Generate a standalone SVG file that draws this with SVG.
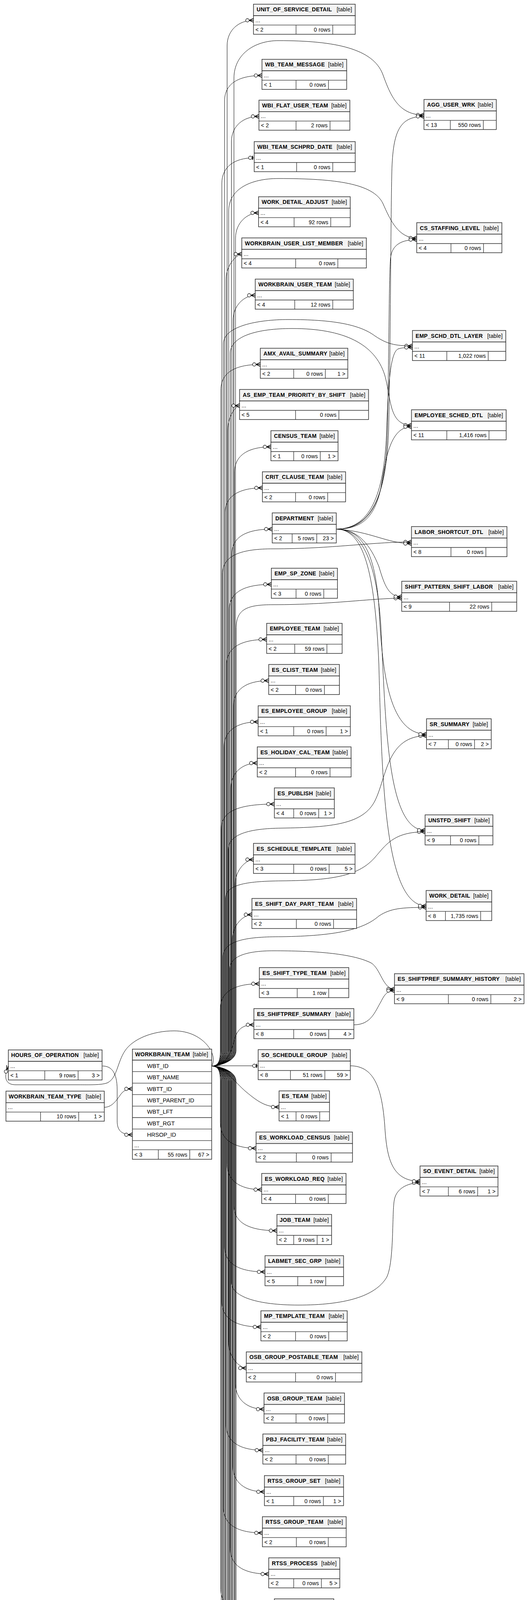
<svg xmlns="http://www.w3.org/2000/svg" width="1357" height="6292" viewBox="0 0 1357 6292">
<defs>
<style>
.h{fill:#f3f3f3;stroke:#2b2b2b;stroke-width:1.5}
.b{fill:#fff;stroke:#2b2b2b;stroke-width:1.5}
.g{fill:none;stroke:#2b2b2b;stroke-width:1.3}
.x{fill:none;stroke:#000;stroke-width:3.5}
.n{font-family:"Liberation Sans",Arial,sans-serif;font-size:14px;font-weight:bold;letter-spacing:.3px;fill:#000}
.t{font-family:"Liberation Sans",Arial,sans-serif;font-size:14px;letter-spacing:.2px;fill:#000}
.c{font-family:"Liberation Sans",Arial,sans-serif;font-size:14.5px;fill:#000}
.e{text-anchor:end}
#edges path{fill:none;stroke:#000;stroke-width:1;marker-end:url(#crow)}
#edges path.tee{marker-end:url(#tee)}
</style>
<marker id="crow" viewBox="-24 -7 26 14" refX="0" refY="0" markerWidth="26" markerHeight="14" markerUnits="userSpaceOnUse" orient="auto">
<circle cx="-15.5" cy="0" r="4.3" fill="#fff" stroke="#000" stroke-width="1.2"/>
<path d="M-11 0L0 -5M-11 0L0 0M-11 0L0 5" stroke="#000" stroke-width="1.6" fill="none"/>
</marker>
<marker id="tee" viewBox="-24 -7 26 14" refX="0" refY="0" markerWidth="26" markerHeight="14" markerUnits="userSpaceOnUse" orient="auto">
<circle cx="-10" cy="0" r="4.3" fill="#fff" stroke="#000" stroke-width="1.2"/>
<path d="M-4 -5V5" stroke="#000" stroke-width="2.4" fill="none"/>
</marker>
</defs>
<rect width="1357" height="6292" fill="#fff"/>
<g id="edges">
<path d="M542 2729C558 2729 581.5 2718 581.5 2690L581.5 117C581.5 77 611.5 52 649 52"/>
<path d="M542 2729C558 2729 599 2718 599 2690L599 200C599 140 650 104 713 104C860 104 955 125 980 190C1000 245 1020 294.5 1085.5 294.5"/>
<path d="M542 2729C558 2729 575 2718 575 2690L575 258C575 218 605 193.3 670.7 193.3"/>
<path d="M542 2729C558 2729 592.5 2718 592.5 2690L592.5 363C592.5 323 622.5 298 663 298"/>
<path class="tee" d="M542 2729C558 2729 568 2718 568 2690L568 469C568 429 598 404 650.8 404"/>
<path d="M542 2729C558 2729 585.5 2718 585.5 2690L585.5 540C585.5 485 640 457 713 457C860 457 955 470 980 520C1000 565 1020 609.5 1067 609.5"/>
<path d="M542 2729C558 2729 603 2718 603 2690L603 610C603 570 633 545 662 545"/>
<path d="M542 2729C558 2729 579 2718 579 2690L579 715C579 675 609 650.5 619 650.5"/>
<path d="M542 2729C558 2729 596.5 2718 596.5 2690L596.5 821C596.5 781 626.5 756 653.5 756"/>
<path d="M542 2729C558 2729 572 2718 572 2690L572 880C572 835 660 818 738 818C850 818 920 830 960 860C990 880 1010 885.5 1056 885.5"/>
<path d="M542 2729C558 2729 589.5 2718 589.5 2690L589.5 905C589.5 860 660 841 748 841C880 841 960 880 985 960C1002 1020 995 1088.5 1053.5 1088.5"/>
<path d="M542 2729C558 2729 565.5 2718 565.5 2690L565.5 998C565.5 958 595.5 933 666.5 933"/>
<path d="M542 2729C558 2729 583 2718 583 2690L583 1103C583 1063 605.4 1038.5 613.4 1038.5"/>
<path d="M542 2729C558 2729 600.5 2718 600.5 2690L600.5 1209C600.5 1169 630.5 1144 693.6 1144"/>
<path d="M542 2729C558 2729 576 2718 576 2690L576 1314C576 1274 606 1249 671.8 1249"/>
<path d="M542 2729C558 2729 593.5 2718 593.5 2690L593.5 1419C593.5 1379 623.5 1354.5 697 1354.5"/>
<path d="M542 2729C558 2729 569.5 2718 569.5 2690L569.5 1470C569.5 1420 620 1405 700 1405C850 1405 950 1387.5 1053.5 1387.5"/>
<path d="M542 2729C558 2729 587 2718 587 2690L587 1561C587 1521 617 1496 694.7 1496"/>
<path d="M542 2729C558 2729 604.5 2718 604.5 2690L604.5 1610C604.5 1560 630 1548 700 1548C850 1548 950 1531.5 1028.5 1531.5"/>
<path d="M542 2729C558 2729 580 2718 580 2690L580 1702C580 1662 610 1637 682.7 1637"/>
<path d="M542 2729C558 2729 598 2718 598 2690L598 1807C598 1767 628 1742.5 688 1742.5"/>
<path d="M542 2729C558 2729 573.5 2718 573.5 2690L573.5 1913C573.5 1873 603.5 1848 661 1848"/>
<path d="M542 2729C558 2729 591 2718 591 2690L591 2018C591 1978 621 1953.5 658.7 1953.5"/>
<path d="M542 2729C558 2729 566.5 2718 566.5 2690L566.5 2123C566.5 2083 596.5 2058.5 702.5 2058.5"/>
<path d="M542 2729C558 2729 584.5 2718 584.5 2690L584.5 2175C584.5 2135 640 2121 720 2120C850 2118 930 2110 960 2050C990 1990 990 1883.5 1092 1883.5"/>
<path d="M542 2729C558 2729 602 2718 602 2690L602 2265C602 2225 632 2200.5 649 2200.5"/>
<path d="M542 2729C558 2729 577.5 2718 577.5 2690L577.5 2300C577.5 2262 640 2256 720 2255C860 2254 920 2240 960 2195C990 2160 1010 2129.5 1088.4 2129.5"/>
<path d="M542 2729C558 2729 595 2718 595 2690L595 2406C595 2366 625 2341.5 645 2341.5"/>
<path d="M542 2729C558 2729 571 2718 571 2690L571 2450C571 2405 640 2398 720 2398C860 2396 930 2380 970 2345C1000 2325 1030 2323 1091 2323"/>
<path d="M542 2729C558 2729 588.5 2718 588.5 2690L588.5 2480C588.5 2445 640 2434 700 2434C800 2434 900 2440 950 2465C975 2480 980 2532 1010 2532"/>
<path d="M542 2729C558 2729 564 2718 564 2690L564 2583C564 2543 594 2518.5 664 2518.5"/>
<path d="M542 2729C575 2729 590 2700 598 2670C605 2640 615 2623.5 650 2623.5"/>
<path class="tee" d="M542 2728.5L661 2728.5"/>
<path d="M542 2729C580 2735 600 2770 630 2795C660 2820 680 2834 714.5 2834"/>
<path d="M542 2729C558 2729 564 2740 564 2768L564 2874.5C564 2914.5 594 2939.5 655.6 2939.5"/>
<path d="M542 2729C558 2729 581.5 2740 581.5 2768L581.5 2980.5C581.5 3020.5 611.5 3045.5 670 3045.5"/>
<path d="M542 2729C558 2729 599 2740 599 2768L599 3085.5C599 3125.5 629 3150.5 709 3150.5"/>
<path d="M542 2729C558 2729 575 2740 575 2768L575 3191C575 3231 605 3256 678.5 3256"/>
<path d="M542 2729C558 2729 592.5 2740 592.5 2768L592.5 3285C595 3320 660 3341 764 3341C880 3341 960 3320 990 3270C1010 3230 1003 3100 1010 3070C1015 3045 1040 3028 1075.4 3028"/>
<path d="M542 2729C558 2729 568 2740 568 2768L568 3332C568 3372 598 3397 668 3397"/>
<path d="M542 2729C558 2729 585.5 2740 585.5 2768L585.5 3437.3C585.5 3477.3 615.5 3502.3 630.6 3502.3"/>
<path d="M542 2729C558 2729 603 2740 603 2768L603 3542.5C603 3582.5 633 3607.5 676 3607.5"/>
<path d="M542 2729C558 2729 579 2740 579 2768L579 3647.5C579 3687.5 609 3712.5 673 3712.5"/>
<path d="M542 2729C558 2729 596.5 2740 596.5 2768L596.5 3754C596.5 3794 626.5 3819 677 3819"/>
<path d="M542 2729C558 2729 572 2740 572 2768L572 3859.2C572 3899.2 602 3924.2 671.8 3924.2"/>
<path d="M542 2729C558 2729 589.5 2740 589.5 2768L589.5 3964.5C589.5 4004.5 619.5 4029.5 688 4029.5"/>
<path d="M542 2729C558 2729 565.5 2740 565.5 2768L565.5 4069.5C565.5 4109.5 595.5 4134.5 702.5 4134.5"/>
<path d="M542 2729C558 2729 583 2740 583 2768L583 4174.5C583 4214.5 613 4239.5 695.7 4239.5"/>
<path d="M542 2729C558 2729 600.5 2740 600.5 2768L600.5 4262C602 4300 640 4311 720 4311C850 4312 960 4308 1067 4308"/>
<path d="M542 2729C558 2729 576 2740 576 2768L576 4316C576 4356 606 4381 713.4 4381"/>
<path d="M542 2729C558 2729 593.5 2740 593.5 2768L593.5 4421.5C593.5 4461.5 623.5 4486.5 668 4486.5"/>
<path d="M542 2729C558 2729 569.5 2740 569.5 2768L569.5 4527C569.5 4567 599.5 4592 713.4 4592"/>
<path d="M542 2729C558 2729 587 2740 587 2768L587 4632C587 4672 617 4697 678.5 4697"/>
<path d="M542 2729C558 2729 604.5 2740 604.5 2768L604.5 4725C605 4765 660 4781 748 4781C880 4781 960 4760 985 4720C1005 4680 1005 4630 1025 4605C1040 4592 1060 4591.5 1084 4591.5"/>
<path d="M542 2729C558 2729 580 2740 580 2768L580 4773.3C580 4813.3 610 4838.3 673 4838.3"/>
<path d="M542 2729C558 2729 598 2740 598 2768L598 4879C598 4919 628 4944 689.5 4944"/>
<path d="M542 2729C558 2729 573.5 2740 573.5 2768L573.5 4984.2C573.5 5024.2 603.5 5049.2 681.7 5049.2"/>
<path d="M542 2729C558 2729 591 2740 591 2768L591 5089.5C591 5129.5 621 5154.5 688 5154.5"/>
<path d="M542 2729C558 2729 566.5 2740 566.5 2768L566.5 5194.5C566.5 5234.5 596.5 5259.5 666.6 5259.5"/>
<path d="M542 2729C558 2729 584.5 2740 584.5 2768L584.5 5299.5C584.5 5339.5 614.5 5364.5 697 5364.5"/>
<path d="M542 2729C558 2729 602 2740 602 2768L602 5405.5C602 5445.5 632 5470.5 692 5470.5"/>
<path d="M542 2729C558 2729 577.5 2740 577.5 2768L577.5 5510.5C577.5 5550.5 607.5 5575.5 646 5575.5"/>
<path d="M542 2729C558 2729 595 2740 595 2768L595 5616.5C595 5656.5 625 5681.5 689.5 5681.5"/>
<path d="M542 2729C558 2729 571 2740 571 2768L571 5721.2C571 5761.2 601 5786.2 676 5786.2"/>
<path d="M542 2729C558 2729 588.5 2740 588.5 2768L588.5 5880C588.5 5920 600 5945 615.5 5955.7"/>
<path d="M542 2729C560 2700 520 2639 446 2639C390 2639 340 2660 320 2690C300 2720 300 2760 275 2772C260 2778 230 2777 200 2777L40 2777C15 2777 8 2760 21.4 2729"/>
<path d="M262.5 2729C285 2729 300 2745 300 2790L300 2870C300 2895 312 2905 339 2905"/>
<path d="M267 2834.7C290 2834.7 302 2810 312 2798C320 2790 327 2787.5 339 2787.5"/>
<path d="M547 6095C575 6095 583 6075 583 6040L583 5965C583 5938 595 5926 615.5 5926"/>
<path d="M547 6095L618.6 6095"/>
<path d="M547 6095C575 6095 585 6120 592 6150C600 6185 612 6201 639.7 6201"/>
<path d="M906 2623.5C950 2623.5 960 2590 975 2565C985 2545 992 2536 1010 2536"/>
<path d="M897 2728.5C960 2728.5 978 2790 985 2880C990 2960 1000 3024 1075.4 3024"/>
<path d="M862.4 4239.5C930 4239.5 960 4270 990 4290C1010 4302 1030 4306 1067 4306"/>
<path d="M844.7 4381C900 4381 935 4360 970 4335C1000 4316 1030 4310 1067 4310"/>
<path d="M844.7 4383C920 4383 970 4430 990 4490C1005 4540 1030 4587.5 1084 4587.5"/>
<path d="M861 1354.5C960 1354.5 990 1250 995 1100C1000 900 1000 600 1003 450C1005 340 1020 298 1085.5 298"/>
<path d="M861 1354.5C960 1354.5 988 1260 992 1100C996 900 996 700 1000 660C1004 625 1030 613.5 1067 613.5"/>
<path d="M861 1354.5C955 1354.5 985 1250 990 1100C994 980 1000 900 1020 893C1030 890 1040 889.5 1056 889.5"/>
<path d="M861 1354.5C930 1354.5 960 1320 975 1250C988 1170 1000 1092.5 1053.5 1092.5"/>
<path d="M861 1354.5C950 1360 990 1391.5 1053.5 1391.5"/>
<path d="M861 1354.5C920 1354.5 950 1400 970 1450C985 1500 995 1527.5 1028.5 1527.5"/>
<path d="M861 1354.5C930 1354.5 960 1420 970 1550C978 1700 990 1879.5 1092 1879.5"/>
<path d="M861 1354.5C930 1354.5 965 1450 975 1600C988 1850 990 2125.5 1088.4 2125.5"/>
<path d="M861 1354.5C930 1354.5 960 1460 970 1700C978 2000 985 2319 1091 2319"/>
</g>
<g id="t-UNIT_OF_SERVICE_DETAIL" transform="translate(649 10.7)"><rect class="h" width="260.5" height="29.5"/><rect class="b" y="29.5" width="260.5" height="47.5"/><path class="g" d="M0 53.5H260.5M109 53.5V77M203 53.5V77"/><text class="n" x="8" y="18.5">UNIT_OF_SERVICE_DETAIL</text><text class="t e" x="252.5" y="18.5">[table]</text><text class="t" x="5" y="46">...</text><text class="t" x="5" y="70">&lt; 2</text><text class="t e" x="197" y="70">0 rows</text></g>
<g id="t-WB_TEAM_MESSAGE" transform="translate(670.7 151.8)"><rect class="h" width="216.9" height="29.5"/><rect class="b" y="29.5" width="216.9" height="47.5"/><path class="g" d="M0 53.5H216.9M87.3 53.5V77M170.3 53.5V77"/><text class="n" x="8" y="18.5">WB_TEAM_MESSAGE</text><text class="t e" x="208.9" y="18.5">[table]</text><text class="t" x="5" y="46">...</text><text class="t" x="5" y="70">&lt; 1</text><text class="t e" x="164.3" y="70">0 rows</text></g>
<g id="t-WBI_FLAT_USER_TEAM" transform="translate(663 256.4)"><rect class="h" width="232.7" height="29.5"/><rect class="b" y="29.5" width="232.7" height="47.5"/><path class="g" d="M0 53.5H232.7M95 53.5V77M182 53.5V77"/><text class="n" x="8" y="18.5">WBI_FLAT_USER_TEAM</text><text class="t e" x="224.7" y="18.5">[table]</text><text class="t" x="5" y="46">...</text><text class="t" x="5" y="70">&lt; 2</text><text class="t e" x="176" y="70">2 rows</text></g>
<g id="t-WBI_TEAM_SCHPRD_DATE" transform="translate(650.8 362.5)"><rect class="h" width="258.7" height="29.5"/><rect class="b" y="29.5" width="258.7" height="47.5"/><path class="g" d="M0 53.5H258.7M108.7 53.5V77M201.2 53.5V77"/><text class="n" x="8" y="18.5">WBI_TEAM_SCHPRD_DATE</text><text class="t e" x="250.7" y="18.5">[table]</text><text class="t" x="5" y="46">...</text><text class="t" x="5" y="70">&lt; 1</text><text class="t e" x="195.2" y="70">0 rows</text></g>
<g id="t-WORK_DETAIL_ADJUST" transform="translate(662 503.6)"><rect class="h" width="234.7" height="29.5"/><rect class="b" y="29.5" width="234.7" height="47.5"/><path class="g" d="M0 53.5H234.7M91 53.5V77M184.8 53.5V77"/><text class="n" x="8" y="18.5">WORK_DETAIL_ADJUST</text><text class="t e" x="226.7" y="18.5">[table]</text><text class="t" x="5" y="46">...</text><text class="t" x="5" y="70">&lt; 4</text><text class="t e" x="178.8" y="70">92 rows</text></g>
<g id="t-WORKBRAIN_USER_LIST_MEMBER" transform="translate(619 609)"><rect class="h" width="319" height="29.5"/><rect class="b" y="29.5" width="319" height="47.5"/><path class="g" d="M0 53.5H319M138 53.5V77M246 53.5V77"/><text class="n" x="8" y="18.5">WORKBRAIN_USER_LIST_MEMBER</text><text class="t e" x="311" y="18.5">[table]</text><text class="t" x="5" y="46">...</text><text class="t" x="5" y="70">&lt; 4</text><text class="t e" x="240" y="70">0 rows</text></g>
<g id="t-WORKBRAIN_USER_TEAM" transform="translate(653.5 714.5)"><rect class="h" width="251.1" height="29.5"/><rect class="b" y="29.5" width="251.1" height="47.5"/><path class="g" d="M0 53.5H251.1M101.1 53.5V77M198.5 53.5V77"/><text class="n" x="8" y="18.5">WORKBRAIN_USER_TEAM</text><text class="t e" x="243.1" y="18.5">[table]</text><text class="t" x="5" y="46">...</text><text class="t" x="5" y="70">&lt; 4</text><text class="t e" x="192.5" y="70">12 rows</text></g>
<g id="t-AMX_AVAIL_SUMMARY" transform="translate(666.5 891.5)"><rect class="h" width="224" height="29.5"/><rect class="b" y="29.5" width="224" height="47.5"/><path class="g" d="M0 53.5H224M85.5 53.5V77M166.5 53.5V77"/><text class="n" x="8" y="18.5">AMX_AVAIL_SUMMARY</text><text class="t e" x="216" y="18.5">[table]</text><text class="t" x="5" y="46">...</text><text class="t" x="5" y="70">&lt; 2</text><text class="t e" x="160.5" y="70">0 rows</text><text class="t e" x="218" y="70">1 &gt;</text></g>
<g id="t-AS_EMP_TEAM_PRIORITY_BY_SHIFT" transform="translate(613.4 997)"><rect class="h" width="330.2" height="29.5"/><rect class="b" y="29.5" width="330.2" height="47.5"/><path class="g" d="M0 53.5H330.2M143.3 53.5V77M254.2 53.5V77"/><text class="n" x="8" y="18.5">AS_EMP_TEAM_PRIORITY_BY_SHIFT</text><text class="t e" x="322.2" y="18.5">[table]</text><text class="t" x="5" y="46">...</text><text class="t" x="5" y="70">&lt; 5</text><text class="t e" x="248.2" y="70">0 rows</text></g>
<g id="t-CENSUS_TEAM" transform="translate(693.6 1102.5)"><rect class="h" width="171.9" height="29.5"/><rect class="b" y="29.5" width="171.9" height="47.5"/><path class="g" d="M0 53.5H171.9M58.4 53.5V77M126.4 53.5V77"/><text class="n" x="8" y="18.5">CENSUS_TEAM</text><text class="t e" x="163.9" y="18.5">[table]</text><text class="t" x="5" y="46">...</text><text class="t" x="5" y="70">&lt; 1</text><text class="t e" x="120.4" y="70">0 rows</text><text class="t e" x="165.9" y="70">1 &gt;</text></g>
<g id="t-CRIT_CLAUSE_TEAM" transform="translate(671.8 1207.7)"><rect class="h" width="213" height="29.5"/><rect class="b" y="29.5" width="213" height="47.5"/><path class="g" d="M0 53.5H213M84.9 53.5V77M167.2 53.5V77"/><text class="n" x="8" y="18.5">CRIT_CLAUSE_TEAM</text><text class="t e" x="205" y="18.5">[table]</text><text class="t" x="5" y="46">...</text><text class="t" x="5" y="70">&lt; 2</text><text class="t e" x="161.2" y="70">0 rows</text></g>
<g id="t-DEPARTMENT" transform="translate(697 1313)"><rect class="h" width="164" height="29.5"/><rect class="b" y="29.5" width="164" height="47.5"/><path class="g" d="M0 53.5H164M51 53.5V77M114 53.5V77"/><text class="n" x="8" y="18.5">DEPARTMENT</text><text class="t e" x="156" y="18.5">[table]</text><text class="t" x="5" y="46">...</text><text class="t" x="5" y="70">&lt; 2</text><text class="t e" x="108" y="70">5 rows</text><text class="t e" x="158" y="70">23 &gt;</text></g>
<g id="t-EMP_SP_ZONE" transform="translate(694.7 1454.6)"><rect class="h" width="169.3" height="29.5"/><rect class="b" y="29.5" width="169.3" height="47.5"/><path class="g" d="M0 53.5H169.3M63.3 53.5V77M134.3 53.5V77"/><text class="n" x="8" y="18.5">EMP_SP_ZONE</text><text class="t e" x="161.3" y="18.5">[table]</text><text class="t" x="5" y="46">...</text><text class="t" x="5" y="70">&lt; 3</text><text class="t e" x="128.3" y="70">0 rows</text></g>
<g id="t-EMPLOYEE_TEAM" transform="translate(682.7 1595.7)"><rect class="h" width="193.3" height="29.5"/><rect class="b" y="29.5" width="193.3" height="47.5"/><path class="g" d="M0 53.5H193.3M71.9 53.5V77M154.3 53.5V77"/><text class="n" x="8" y="18.5">EMPLOYEE_TEAM</text><text class="t e" x="185.3" y="18.5">[table]</text><text class="t" x="5" y="46">...</text><text class="t" x="5" y="70">&lt; 2</text><text class="t e" x="148.3" y="70">59 rows</text></g>
<g id="t-ES_CLIST_TEAM" transform="translate(688 1701)"><rect class="h" width="181" height="29.5"/><rect class="b" y="29.5" width="181" height="47.5"/><path class="g" d="M0 53.5H181M68.7 53.5V77M142.6 53.5V77"/><text class="n" x="8" y="18.5">ES_CLIST_TEAM</text><text class="t e" x="173" y="18.5">[table]</text><text class="t" x="5" y="46">...</text><text class="t" x="5" y="70">&lt; 2</text><text class="t e" x="136.6" y="70">0 rows</text></g>
<g id="t-ES_EMPLOYEE_GROUP" transform="translate(661 1806.7)"><rect class="h" width="236" height="29.5"/><rect class="b" y="29.5" width="236" height="47.5"/><path class="g" d="M0 53.5H236M91 53.5V77M174 53.5V77"/><text class="n" x="8" y="18.5">ES_EMPLOYEE_GROUP</text><text class="t e" x="228" y="18.5">[table]</text><text class="t" x="5" y="46">...</text><text class="t" x="5" y="70">&lt; 1</text><text class="t e" x="168" y="70">0 rows</text><text class="t e" x="230" y="70">1 &gt;</text></g>
<g id="t-ES_HOLIDAY_CAL_TEAM" transform="translate(658.7 1912)"><rect class="h" width="240.2" height="29.5"/><rect class="b" y="29.5" width="240.2" height="47.5"/><path class="g" d="M0 53.5H240.2M98 53.5V77M186.3 53.5V77"/><text class="n" x="8" y="18.5">ES_HOLIDAY_CAL_TEAM</text><text class="t e" x="232.2" y="18.5">[table]</text><text class="t" x="5" y="46">...</text><text class="t" x="5" y="70">&lt; 2</text><text class="t e" x="180.3" y="70">0 rows</text></g>
<g id="t-ES_PUBLISH" transform="translate(702.5 2017)"><rect class="h" width="153.5" height="29.5"/><rect class="b" y="29.5" width="153.5" height="47.5"/><path class="g" d="M0 53.5H153.5M49.5 53.5V77M113.5 53.5V77"/><text class="n" x="8" y="18.5">ES_PUBLISH</text><text class="t e" x="145.5" y="18.5">[table]</text><text class="t" x="5" y="46">...</text><text class="t" x="5" y="70">&lt; 4</text><text class="t e" x="107.5" y="70">0 rows</text><text class="t e" x="147.5" y="70">1 &gt;</text></g>
<g id="t-ES_SCHEDULE_TEMPLATE" transform="translate(649 2159)"><rect class="h" width="260" height="29.5"/><rect class="b" y="29.5" width="260" height="47.5"/><path class="g" d="M0 53.5H260M103 53.5V77M193.6 53.5V77"/><text class="n" x="8" y="18.5">ES_SCHEDULE_TEMPLATE</text><text class="t e" x="252" y="18.5">[table]</text><text class="t" x="5" y="46">...</text><text class="t" x="5" y="70">&lt; 3</text><text class="t e" x="187.6" y="70">0 rows</text><text class="t e" x="254" y="70">5 &gt;</text></g>
<g id="t-ES_SHIFT_DAY_PART_TEAM" transform="translate(645 2300)"><rect class="h" width="268" height="29.5"/><rect class="b" y="29.5" width="268" height="47.5"/><path class="g" d="M0 53.5H268M113.7 53.5V77M209 53.5V77"/><text class="n" x="8" y="18.5">ES_SHIFT_DAY_PART_TEAM</text><text class="t e" x="260" y="18.5">[table]</text><text class="t" x="5" y="46">...</text><text class="t" x="5" y="70">&lt; 2</text><text class="t e" x="203" y="70">0 rows</text></g>
<g id="t-ES_SHIFT_TYPE_TEAM" transform="translate(664 2477)"><rect class="h" width="229" height="29.5"/><rect class="b" y="29.5" width="229" height="47.5"/><path class="g" d="M0 53.5H229M97 53.5V77M177.6 53.5V77"/><text class="n" x="8" y="18.5">ES_SHIFT_TYPE_TEAM</text><text class="t e" x="221" y="18.5">[table]</text><text class="t" x="5" y="46">...</text><text class="t" x="5" y="70">&lt; 3</text><text class="t e" x="171.6" y="70">1 row</text></g>
<g id="t-ES_SHIFTPREF_SUMMARY" transform="translate(650 2582)"><rect class="h" width="256" height="29.5"/><rect class="b" y="29.5" width="256" height="47.5"/><path class="g" d="M0 53.5H256M102 53.5V77M191.6 53.5V77"/><text class="n" x="8" y="18.5">ES_SHIFTPREF_SUMMARY</text><text class="t e" x="248" y="18.5">[table]</text><text class="t" x="5" y="46">...</text><text class="t" x="5" y="70">&lt; 8</text><text class="t e" x="185.6" y="70">0 rows</text><text class="t e" x="250" y="70">4 &gt;</text></g>
<g id="t-SO_SCHEDULE_GROUP" transform="translate(661 2687)"><rect class="h" width="236" height="29.5"/><rect class="b" y="29.5" width="236" height="47.5"/><path class="g" d="M0 53.5H236M82.6 53.5V77M170.7 53.5V77"/><text class="n" x="8" y="18.5">SO_SCHEDULE_GROUP</text><text class="t e" x="228" y="18.5">[table]</text><text class="t" x="5" y="46">...</text><text class="t" x="5" y="70">&lt; 8</text><text class="t e" x="164.7" y="70">51 rows</text><text class="t e" x="230" y="70">59 &gt;</text></g>
<g id="t-ES_TEAM" transform="translate(714.5 2792.6)"><rect class="h" width="129.1" height="29.5"/><rect class="b" y="29.5" width="129.1" height="47.5"/><path class="g" d="M0 53.5H129.1M43.5 53.5V77M104.1 53.5V77"/><text class="n" x="7" y="18.5">ES_TEAM</text><text class="t e" x="122.1" y="18.5">[table]</text><text class="t" x="5" y="46">...</text><text class="t" x="5" y="70">&lt; 1</text><text class="t e" x="98.1" y="70">0 rows</text></g>
<g id="t-ES_WORKLOAD_CENSUS" transform="translate(655.6 2898)"><rect class="h" width="246.9" height="29.5"/><rect class="b" y="29.5" width="246.9" height="47.5"/><path class="g" d="M0 53.5H246.9M103.1 53.5V77M192.2 53.5V77"/><text class="n" x="8" y="18.5">ES_WORKLOAD_CENSUS</text><text class="t e" x="238.9" y="18.5">[table]</text><text class="t" x="5" y="46">...</text><text class="t" x="5" y="70">&lt; 2</text><text class="t e" x="186.2" y="70">0 rows</text></g>
<g id="t-ES_WORKLOAD_REQ" transform="translate(670 3004)"><rect class="h" width="216" height="29.5"/><rect class="b" y="29.5" width="216" height="47.5"/><path class="g" d="M0 53.5H216M86.7 53.5V77M170.5 53.5V77"/><text class="n" x="8" y="18.5">ES_WORKLOAD_REQ</text><text class="t e" x="208" y="18.5">[table]</text><text class="t" x="5" y="46">...</text><text class="t" x="5" y="70">&lt; 4</text><text class="t e" x="164.5" y="70">0 rows</text></g>
<g id="t-JOB_TEAM" transform="translate(709 3109)"><rect class="h" width="140" height="29.5"/><rect class="b" y="29.5" width="140" height="47.5"/><path class="g" d="M0 53.5H140M43 53.5V77M103 53.5V77"/><text class="n" x="7" y="18.5">JOB_TEAM</text><text class="t e" x="133" y="18.5">[table]</text><text class="t" x="5" y="46">...</text><text class="t" x="5" y="70">&lt; 2</text><text class="t e" x="97" y="70">9 rows</text><text class="t e" x="134" y="70">1 &gt;</text></g>
<g id="t-LABMET_SEC_GRP" transform="translate(678.5 3214.5)"><rect class="h" width="201.1" height="29.5"/><rect class="b" y="29.5" width="201.1" height="47.5"/><path class="g" d="M0 53.5H201.1M83.9 53.5V77M155.5 53.5V77"/><text class="n" x="8" y="18.5">LABMET_SEC_GRP</text><text class="t e" x="193.1" y="18.5">[table]</text><text class="t" x="5" y="46">...</text><text class="t" x="5" y="70">&lt; 5</text><text class="t e" x="149.5" y="70">1 row</text></g>
<g id="t-MP_TEMPLATE_TEAM" transform="translate(668 3355.6)"><rect class="h" width="221" height="29.5"/><rect class="b" y="29.5" width="221" height="47.5"/><path class="g" d="M0 53.5H221M88.7 53.5V77M173.6 53.5V77"/><text class="n" x="8" y="18.5">MP_TEMPLATE_TEAM</text><text class="t e" x="213" y="18.5">[table]</text><text class="t" x="5" y="46">...</text><text class="t" x="5" y="70">&lt; 2</text><text class="t e" x="167.6" y="70">0 rows</text></g>
<g id="t-OSB_GROUP_POSTABLE_TEAM" transform="translate(630.6 3460.8)"><rect class="h" width="295.9" height="29.5"/><rect class="b" y="29.5" width="295.9" height="47.5"/><path class="g" d="M0 53.5H295.9M126.1 53.5V77M228.4 53.5V77"/><text class="n" x="8" y="18.5">OSB_GROUP_POSTABLE_TEAM</text><text class="t e" x="287.9" y="18.5">[table]</text><text class="t" x="5" y="46">...</text><text class="t" x="5" y="70">&lt; 2</text><text class="t e" x="222.4" y="70">0 rows</text></g>
<g id="t-OSB_GROUP_TEAM" transform="translate(676 3566)"><rect class="h" width="206" height="29.5"/><rect class="b" y="29.5" width="206" height="47.5"/><path class="g" d="M0 53.5H206M82 53.5V77M163 53.5V77"/><text class="n" x="8" y="18.5">OSB_GROUP_TEAM</text><text class="t e" x="198" y="18.5">[table]</text><text class="t" x="5" y="46">...</text><text class="t" x="5" y="70">&lt; 2</text><text class="t e" x="157" y="70">0 rows</text></g>
<g id="t-PBJ_FACILITY_TEAM" transform="translate(673 3671)"><rect class="h" width="212" height="29.5"/><rect class="b" y="29.5" width="212" height="47.5"/><path class="g" d="M0 53.5H212M85 53.5V77M167.5 53.5V77"/><text class="n" x="8" y="18.5">PBJ_FACILITY_TEAM</text><text class="t e" x="204" y="18.5">[table]</text><text class="t" x="5" y="46">...</text><text class="t" x="5" y="70">&lt; 2</text><text class="t e" x="161.5" y="70">0 rows</text></g>
<g id="t-RTSS_GROUP_SET" transform="translate(677 3777.5)"><rect class="h" width="202.6" height="29.5"/><rect class="b" y="29.5" width="202.6" height="47.5"/><path class="g" d="M0 53.5H202.6M75 53.5V77M151 53.5V77"/><text class="n" x="8" y="18.5">RTSS_GROUP_SET</text><text class="t e" x="194.6" y="18.5">[table]</text><text class="t" x="5" y="46">...</text><text class="t" x="5" y="70">&lt; 1</text><text class="t e" x="145" y="70">0 rows</text><text class="t e" x="196.6" y="70">1 &gt;</text></g>
<g id="t-RTSS_GROUP_TEAM" transform="translate(671.8 3882.7)"><rect class="h" width="214.6" height="29.5"/><rect class="b" y="29.5" width="214.6" height="47.5"/><path class="g" d="M0 53.5H214.6M86.9 53.5V77M168.7 53.5V77"/><text class="n" x="8" y="18.5">RTSS_GROUP_TEAM</text><text class="t e" x="206.6" y="18.5">[table]</text><text class="t" x="5" y="46">...</text><text class="t" x="5" y="70">&lt; 2</text><text class="t e" x="162.7" y="70">0 rows</text></g>
<g id="t-RTSS_PROCESS" transform="translate(688 3988)"><rect class="h" width="182" height="29.5"/><rect class="b" y="29.5" width="182" height="47.5"/><path class="g" d="M0 53.5H182M64 53.5V77M134.8 53.5V77"/><text class="n" x="8" y="18.5">RTSS_PROCESS</text><text class="t e" x="174" y="18.5">[table]</text><text class="t" x="5" y="46">...</text><text class="t" x="5" y="70">&lt; 2</text><text class="t e" x="128.8" y="70">0 rows</text><text class="t e" x="176" y="70">5 &gt;</text></g>
<g id="t-RTSS_SHIFT" transform="translate(702.5 4093)"><rect class="h" width="152.1" height="29.5"/><rect class="b" y="29.5" width="152.1" height="47.5"/><path class="g" d="M0 53.5H152.1M49.5 53.5V77M112 53.5V77"/><text class="n" x="8" y="18.5">RTSS_SHIFT</text><text class="t e" x="144.1" y="18.5">[table]</text><text class="t" x="5" y="46">...</text><text class="t" x="5" y="70">&lt; 4</text><text class="t e" x="106" y="70">0 rows</text><text class="t e" x="146.1" y="70">1 &gt;</text></g>
<g id="t-ES_ROTATION" transform="translate(695.7 4198)"><rect class="h" width="166.7" height="29.5"/><rect class="b" y="29.5" width="166.7" height="47.5"/><path class="g" d="M0 53.5H166.7M56.3 53.5V77M122.9 53.5V77"/><text class="n" x="8" y="18.5">ES_ROTATION</text><text class="t e" x="158.7" y="18.5">[table]</text><text class="t" x="5" y="46">...</text><text class="t" x="5" y="70">&lt; 3</text><text class="t e" x="116.9" y="70">0 rows</text><text class="t e" x="160.7" y="70">6 &gt;</text></g>
<g id="t-ES_SHIFT" transform="translate(713.4 4339.5)"><rect class="h" width="131.3" height="29.5"/><rect class="b" y="29.5" width="131.3" height="47.5"/><path class="g" d="M0 53.5H131.3M38.6 53.5V77M96.6 53.5V77"/><text class="n" x="7" y="18.5">ES_SHIFT</text><text class="t e" x="124.3" y="18.5">[table]</text><text class="t" x="5" y="46">...</text><text class="t" x="5" y="70">&lt; 2</text><text class="t e" x="90.6" y="70">0 rows</text><text class="t e" x="125.3" y="70">6 &gt;</text></g>
<g id="t-SO_TA_GROUP_TEAM" transform="translate(668 4445)"><rect class="h" width="222.5" height="29.5"/><rect class="b" y="29.5" width="222.5" height="47.5"/><path class="g" d="M0 53.5H222.5M90.7 53.5V77M174.6 53.5V77"/><text class="n" x="8" y="18.5">SO_TA_GROUP_TEAM</text><text class="t e" x="214.5" y="18.5">[table]</text><text class="t" x="5" y="46">...</text><text class="t" x="5" y="70">&lt; 2</text><text class="t e" x="168.6" y="70">0 rows</text></g>
<g id="t-SR_LOCK" transform="translate(713.4 4550.4)"><rect class="h" width="131.3" height="29.5"/><rect class="b" y="29.5" width="131.3" height="47.5"/><path class="g" d="M0 53.5H131.3M45.3 53.5V77M106.3 53.5V77"/><text class="n" x="7" y="18.5">SR_LOCK</text><text class="t e" x="124.3" y="18.5">[table]</text><text class="t" x="5" y="46">...</text><text class="t" x="5" y="70">&lt; 1</text><text class="t e" x="100.3" y="70">0 rows</text></g>
<g id="t-SR_SHIFT_OFFSET" transform="translate(678.5 4655.6)"><rect class="h" width="200" height="29.5"/><rect class="b" y="29.5" width="200" height="47.5"/><path class="g" d="M0 53.5H200M78.2 53.5V77M157.3 53.5V77"/><text class="n" x="8" y="18.5">SR_SHIFT_OFFSET</text><text class="t e" x="192" y="18.5">[table]</text><text class="t" x="5" y="46">...</text><text class="t" x="5" y="70">&lt; 3</text><text class="t e" x="151.3" y="70">0 rows</text></g>
<g id="t-SR_TEAM_PRIORITY" transform="translate(673 4796.8)"><rect class="h" width="210.7" height="29.5"/><rect class="b" y="29.5" width="210.7" height="47.5"/><path class="g" d="M0 53.5H210.7M83.7 53.5V77M166 53.5V77"/><text class="n" x="8" y="18.5">SR_TEAM_PRIORITY</text><text class="t e" x="202.7" y="18.5">[table]</text><text class="t" x="5" y="46">...</text><text class="t" x="5" y="70">&lt; 2</text><text class="t e" x="160" y="70">0 rows</text></g>
<g id="t-ST_SKILL_TEAM" transform="translate(689.5 4902.5)"><rect class="h" width="179.5" height="29.5"/><rect class="b" y="29.5" width="179.5" height="47.5"/><path class="g" d="M0 53.5H179.5M72.9 53.5V77M139.5 53.5V77"/><text class="n" x="8" y="18.5">ST_SKILL_TEAM</text><text class="t e" x="171.5" y="18.5">[table]</text><text class="t" x="5" y="46">...</text><text class="t" x="5" y="70">&lt; 2</text><text class="t e" x="133.5" y="70">1 row</text></g>
<g id="t-ST_WBT_COURSE" transform="translate(681.7 5007.7)"><rect class="h" width="194.3" height="29.5"/><rect class="b" y="29.5" width="194.3" height="47.5"/><path class="g" d="M0 53.5H194.3M75 53.5V77M152.3 53.5V77"/><text class="n" x="8" y="18.5">ST_WBT_COURSE</text><text class="t e" x="186.3" y="18.5">[table]</text><text class="t" x="5" y="46">...</text><text class="t" x="5" y="70">&lt; 2</text><text class="t e" x="146.3" y="70">0 rows</text></g>
<g id="t-TARGET_DETAIL" transform="translate(688 5113)"><rect class="h" width="182" height="29.5"/><rect class="b" y="29.5" width="182" height="47.5"/><path class="g" d="M0 53.5H182M64 53.5V77M134.8 53.5V77"/><text class="n" x="8" y="18.5">TARGET_DETAIL</text><text class="t e" x="174" y="18.5">[table]</text><text class="t" x="5" y="46">...</text><text class="t" x="5" y="70">&lt; 3</text><text class="t e" x="128.8" y="70">0 rows</text><text class="t e" x="176" y="70">2 &gt;</text></g>
<g id="t-TEAM_DAY_PART_SET" transform="translate(666.6 5218)"><rect class="h" width="225.4" height="29.5"/><rect class="b" y="29.5" width="225.4" height="47.5"/><path class="g" d="M0 53.5H225.4M95.8 53.5V77M175 53.5V77"/><text class="n" x="8" y="18.5">TEAM_DAY_PART_SET</text><text class="t e" x="217.4" y="18.5">[table]</text><text class="t" x="5" y="46">...</text><text class="t" x="5" y="70">&lt; 2</text><text class="t e" x="169" y="70">1 row</text></g>
<g id="t-TEAM_RANGE" transform="translate(697 5323)"><rect class="h" width="163" height="29.5"/><rect class="b" y="29.5" width="163" height="47.5"/><path class="g" d="M0 53.5H163M59.7 53.5V77M129.5 53.5V77"/><text class="n" x="8" y="18.5">TEAM_RANGE</text><text class="t e" x="155" y="18.5">[table]</text><text class="t" x="5" y="46">...</text><text class="t" x="5" y="70">&lt; 3</text><text class="t e" x="123.5" y="70">2 rows</text></g>
<g id="t-TEAM_SCHPRD" transform="translate(692 5429)"><rect class="h" width="173.5" height="29.5"/><rect class="b" y="29.5" width="173.5" height="47.5"/><path class="g" d="M0 53.5H173.5M69 53.5V77M134.5 53.5V77"/><text class="n" x="8" y="18.5">TEAM_SCHPRD</text><text class="t e" x="165.5" y="18.5">[table]</text><text class="t" x="5" y="46">...</text><text class="t" x="5" y="70">&lt; 2</text><text class="t e" x="128.5" y="70">1 row</text></g>
<g id="t-TM_ACTITEM_ASSIGNMENT" transform="translate(646 5534)"><rect class="h" width="266" height="29.5"/><rect class="b" y="29.5" width="266" height="47.5"/><path class="g" d="M0 53.5H266M106 53.5V77M198 53.5V77"/><text class="n" x="8" y="18.5">TM_ACTITEM_ASSIGNMENT</text><text class="t e" x="258" y="18.5">[table]</text><text class="t" x="5" y="46">...</text><text class="t" x="5" y="70">&lt; 2</text><text class="t e" x="192" y="70">0 rows</text><text class="t e" x="260" y="70">2 &gt;</text></g>
<g id="t-TM_TASK_TEAM" transform="translate(689.5 5640)"><rect class="h" width="179.5" height="29.5"/><rect class="b" y="29.5" width="179.5" height="47.5"/><path class="g" d="M0 53.5H179.5M69.2 53.5V77M142.5 53.5V77"/><text class="n" x="8" y="18.5">TM_TASK_TEAM</text><text class="t e" x="171.5" y="18.5">[table]</text><text class="t" x="5" y="46">...</text><text class="t" x="5" y="70">&lt; 3</text><text class="t e" x="136.5" y="70">0 rows</text></g>
<g id="t-TM_TGROUP_TEAM" transform="translate(676 5744.7)"><rect class="h" width="206" height="29.5"/><rect class="b" y="29.5" width="206" height="47.5"/><path class="g" d="M0 53.5H206M82.7 53.5V77M163 53.5V77"/><text class="n" x="8" y="18.5">TM_TGROUP_TEAM</text><text class="t e" x="198" y="18.5">[table]</text><text class="t" x="5" y="46">...</text><text class="t" x="5" y="70">&lt; 2</text><text class="t e" x="157" y="70">0 rows</text></g>
<g id="t-AS_GROUP_TEAM" transform="translate(615.5 5851.5)"><rect class="h" width="325.5" height="30.5"/><rect class="b" y="30.5" width="325.5" height="143.4"/><path class="g" d="M0 60H325.5M0 89.5H325.5M0 119H325.5M0 148.5H325.5M241.2 30.5V148.5M109.5 148.5V173.9M241.2 148.5V173.9"/><rect class="x" width="325.5" height="173.9"/><text class="n" x="8" y="19.5">AS_GROUP_TEAM</text><text class="t e" x="315.5" y="19.5">[table]</text><text class="c" x="28.7" y="50.5">ASGT_ID</text><text class="t" x="245.9" y="50.5">number[38]</text><text class="c" x="28.7" y="80">ASG_ID</text><text class="t" x="245.9" y="80">number[38]</text><text class="c" x="28.7" y="109.5">WBT_ID</text><text class="t" x="245.9" y="109.5">number[38]</text><text class="c" x="28.7" y="139">ASGT_INCLUDE_SUBTEAM</text><text class="t" x="245.9" y="139">char[1]</text><text class="t" x="5" y="167">&lt; 2</text><text class="t e" x="235.2" y="167">0 rows</text><text class="t e" x="319" y="167">0 &gt;</text></g>
<g id="t-AS_GROUP_TIME_CODE_EXCLUDE" transform="translate(618.6 6054.6)"><rect class="h" width="319.8" height="29.5"/><rect class="b" y="29.5" width="319.8" height="47.5"/><path class="g" d="M0 53.5H319.8M138.1 53.5V77M246.4 53.5V77"/><text class="n" x="8" y="18.5">AS_GROUP_TIME_CODE_EXCLUDE</text><text class="t e" x="311.8" y="18.5">[table]</text><text class="t" x="5" y="46">...</text><text class="t" x="5" y="70">&lt; 2</text><text class="t e" x="240.4" y="70">0 rows</text></g>
<g id="t-AS_GROUP_CONFIGURATION" transform="translate(639.7 6160)"><rect class="h" width="277.6" height="29.5"/><rect class="b" y="29.5" width="277.6" height="47.5"/><path class="g" d="M0 53.5H277.6M112.3 53.5V77M207 53.5V77"/><text class="n" x="8" y="18.5">AS_GROUP_CONFIGURATION</text><text class="t e" x="269.6" y="18.5">[table]</text><text class="t" x="5" y="46">...</text><text class="t" x="5" y="70">&lt; 2</text><text class="t e" x="201" y="70">0 rows</text><text class="t e" x="271.6" y="70">2 &gt;</text></g>
<g id="t-AGG_USER_WRK" transform="translate(1085.5 254.6)"><rect class="h" width="185.2" height="29.5"/><rect class="b" y="29.5" width="185.2" height="47.5"/><path class="g" d="M0 53.5H185.2M67.5 53.5V77M152 53.5V77"/><text class="n" x="8" y="18.5">AGG_USER_WRK</text><text class="t e" x="177.2" y="18.5">[table]</text><text class="t" x="5" y="46">...</text><text class="t" x="5" y="70">&lt; 13</text><text class="t e" x="146" y="70">550 rows</text></g>
<g id="t-CS_STAFFING_LEVEL" transform="translate(1067 570)"><rect class="h" width="218" height="29.5"/><rect class="b" y="29.5" width="218" height="47.5"/><path class="g" d="M0 53.5H218M87.6 53.5V77M171 53.5V77"/><text class="n" x="8" y="18.5">CS_STAFFING_LEVEL</text><text class="t e" x="210" y="18.5">[table]</text><text class="t" x="5" y="46">...</text><text class="t" x="5" y="70">&lt; 4</text><text class="t e" x="165" y="70">0 rows</text></g>
<g id="t-EMP_SCHD_DTL_LAYER" transform="translate(1056 846)"><rect class="h" width="239" height="29.5"/><rect class="b" y="29.5" width="239" height="47.5"/><path class="g" d="M0 53.5H239M88 53.5V77M194 53.5V77"/><text class="n" x="8" y="18.5">EMP_SCHD_DTL_LAYER</text><text class="t e" x="231" y="18.5">[table]</text><text class="t" x="5" y="46">...</text><text class="t" x="5" y="70">&lt; 11</text><text class="t e" x="188" y="70">1,022 rows</text></g>
<g id="t-EMPLOYEE_SCHED_DTL" transform="translate(1053.5 1049)"><rect class="h" width="242.5" height="29.5"/><rect class="b" y="29.5" width="242.5" height="47.5"/><path class="g" d="M0 53.5H242.5M90.5 53.5V77M198.5 53.5V77"/><text class="n" x="8" y="18.5">EMPLOYEE_SCHED_DTL</text><text class="t e" x="234.5" y="18.5">[table]</text><text class="t" x="5" y="46">...</text><text class="t" x="5" y="70">&lt; 11</text><text class="t e" x="192.5" y="70">1,416 rows</text></g>
<g id="t-LABOR_SHORTCUT_DTL" transform="translate(1053.5 1348)"><rect class="h" width="244.5" height="29.5"/><rect class="b" y="29.5" width="244.5" height="47.5"/><path class="g" d="M0 53.5H244.5M101.1 53.5V77M190.5 53.5V77"/><text class="n" x="8" y="18.5">LABOR_SHORTCUT_DTL</text><text class="t e" x="236.5" y="18.5">[table]</text><text class="t" x="5" y="46">...</text><text class="t" x="5" y="70">&lt; 8</text><text class="t e" x="184.5" y="70">0 rows</text></g>
<g id="t-SHIFT_PATTERN_SHIFT_LABOR" transform="translate(1028.5 1488)"><rect class="h" width="294.5" height="29.5"/><rect class="b" y="29.5" width="294.5" height="47.5"/><path class="g" d="M0 53.5H294.5M122.5 53.5V77M230.5 53.5V77"/><text class="n" x="8" y="18.5">SHIFT_PATTERN_SHIFT_LABOR</text><text class="t e" x="286.5" y="18.5">[table]</text><text class="t" x="5" y="46">...</text><text class="t" x="5" y="70">&lt; 9</text><text class="t e" x="224.5" y="70">22 rows</text></g>
<g id="t-SR_SUMMARY" transform="translate(1092 1840)"><rect class="h" width="165.7" height="29.5"/><rect class="b" y="29.5" width="165.7" height="47.5"/><path class="g" d="M0 53.5H165.7M56 53.5V77M123 53.5V77"/><text class="n" x="8" y="18.5">SR_SUMMARY</text><text class="t e" x="157.7" y="18.5">[table]</text><text class="t" x="5" y="46">...</text><text class="t" x="5" y="70">&lt; 7</text><text class="t e" x="117" y="70">0 rows</text><text class="t e" x="159.7" y="70">2 &gt;</text></g>
<g id="t-UNSTFD_SHIFT" transform="translate(1088.4 2086)"><rect class="h" width="173.6" height="29.5"/><rect class="b" y="29.5" width="173.6" height="47.5"/><path class="g" d="M0 53.5H173.6M65.1 53.5V77M137.6 53.5V77"/><text class="n" x="8" y="18.5">UNSTFD_SHIFT</text><text class="t e" x="165.6" y="18.5">[table]</text><text class="t" x="5" y="46">...</text><text class="t" x="5" y="70">&lt; 9</text><text class="t e" x="131.6" y="70">0 rows</text></g>
<g id="t-WORK_DETAIL" transform="translate(1091 2279.6)"><rect class="h" width="168" height="29.5"/><rect class="b" y="29.5" width="168" height="47.5"/><path class="g" d="M0 53.5H168M49.5 53.5V77M139.6 53.5V77"/><text class="n" x="8" y="18.5">WORK_DETAIL</text><text class="t e" x="160" y="18.5">[table]</text><text class="t" x="5" y="46">...</text><text class="t" x="5" y="70">&lt; 8</text><text class="t e" x="133.6" y="70">1,735 rows</text></g>
<g id="t-ES_SHIFTPREF_SUMMARY_HISTORY" transform="translate(1010 2492.6)"><rect class="h" width="331.6" height="29.5"/><rect class="b" y="29.5" width="331.6" height="47.5"/><path class="g" d="M0 53.5H331.6M138 53.5V77M246.7 53.5V77"/><text class="n" x="8" y="18.5">ES_SHIFTPREF_SUMMARY_HISTORY</text><text class="t e" x="323.6" y="18.5">[table]</text><text class="t" x="5" y="46">...</text><text class="t" x="5" y="70">&lt; 9</text><text class="t e" x="240.7" y="70">0 rows</text><text class="t e" x="325.6" y="70">2 &gt;</text></g>
<g id="t-SO_EVENT_DETAIL" transform="translate(1075.4 2984.8)"><rect class="h" width="199.6" height="29.5"/><rect class="b" y="29.5" width="199.6" height="47.5"/><path class="g" d="M0 53.5H199.6M72.6 53.5V77M147.6 53.5V77"/><text class="n" x="8" y="18.5">SO_EVENT_DETAIL</text><text class="t e" x="191.6" y="18.5">[table]</text><text class="t" x="5" y="46">...</text><text class="t" x="5" y="70">&lt; 7</text><text class="t e" x="141.6" y="70">6 rows</text><text class="t e" x="193.6" y="70">1 &gt;</text></g>
<g id="t-ES_SHIFT_SUMMARY" transform="translate(1067 4266.6)"><rect class="h" width="215.7" height="29.5"/><rect class="b" y="29.5" width="215.7" height="47.5"/><path class="g" d="M0 53.5H215.7M77 53.5V77M154.8 53.5V77"/><text class="n" x="8" y="18.5">ES_SHIFT_SUMMARY</text><text class="t e" x="207.7" y="18.5">[table]</text><text class="t" x="5" y="46">...</text><text class="t" x="5" y="70">&lt; 8</text><text class="t e" x="148.8" y="70">0 rows</text><text class="t e" x="209.7" y="70">15 &gt;</text></g>
<g id="t-ES_SHIFT_TEAM" transform="translate(1084 4548)"><rect class="h" width="181.5" height="29.5"/><rect class="b" y="29.5" width="181.5" height="47.5"/><path class="g" d="M0 53.5H181.5M69.5 53.5V77M143 53.5V77"/><text class="n" x="8" y="18.5">ES_SHIFT_TEAM</text><text class="t e" x="173.5" y="18.5">[table]</text><text class="t" x="5" y="46">...</text><text class="t" x="5" y="70">&lt; 2</text><text class="t e" x="137" y="70">0 rows</text></g>
<g id="t-HOURS_OF_OPERATION" transform="translate(21.4 2687.7)"><rect class="h" width="240" height="29.5"/><rect class="b" y="29.5" width="240" height="47.5"/><path class="g" d="M0 53.5H240M93.2 53.5V77M178.6 53.5V77"/><text class="n" x="7" y="18.5">HOURS_OF_OPERATION</text><text class="t e" x="232" y="18.5">[table]</text><text class="t" x="5" y="46">...</text><text class="t" x="5" y="70">&lt; 1</text><text class="t e" x="172.6" y="70">9 rows</text><text class="t e" x="234" y="70">3 &gt;</text></g>
<g id="t-WORKBRAIN_TEAM_TYPE" transform="translate(15.3 2793.3)"><rect class="h" width="251.7" height="29.5"/><rect class="b" y="29.5" width="251.7" height="47.5"/><path class="g" d="M0 53.5H251.7M88.5 53.5V77M186.2 53.5V77"/><text class="n" x="7" y="18.5">WORKBRAIN_TEAM_TYPE</text><text class="t e" x="243.7" y="18.5">[table]</text><text class="t" x="5" y="46">...</text><text class="t e" x="180.2" y="70">10 rows</text><text class="t e" x="245.7" y="70">1 &gt;</text></g>
<g id="t-WORKBRAIN_TEAM" transform="translate(339 2685.7)"><rect class="h" width="203" height="28.3"/><rect class="b" y="28.3" width="203" height="253.7"/><path class="g" d="M0 57.7H203M0 87.1H203M0 116.5H203M0 145.9H203M0 175.3H203M0 204.7H203M0 234.1H203M0 257.6H203M66.4 257.6V282M146.8 257.6V282"/><text class="n" x="7" y="18.5">WORKBRAIN_TEAM</text><text class="t e" x="194" y="18.5">[table]</text><text class="c" x="37.6" y="48.1">WBT_ID</text><text class="c" x="37.6" y="77.5">WBT_NAME</text><text class="c" x="37.6" y="106.9">WBTT_ID</text><text class="c" x="37.6" y="136.3">WBT_PARENT_ID</text><text class="c" x="37.6" y="165.7">WBT_LFT</text><text class="c" x="37.6" y="195.1">WBT_RGT</text><text class="c" x="37.6" y="224.5">HRSOP_ID</text><text class="t" x="5" y="251">...</text><text class="t" x="5" y="275">&lt; 3</text><text class="t e" x="140.8" y="275">55 rows</text><text class="t e" x="197" y="275">67 &gt;</text></g>
<g id="t-AS_GROUP" transform="translate(331 6051)"><rect class="h" width="216" height="29"/><rect class="b" y="29" width="216" height="107"/><path class="g" d="M0 58.7H216M0 88.2H216M0 112H216M74.7 112V136M157 112V136"/><text class="n" x="7" y="18.5">AS_GROUP</text><text class="t e" x="208" y="18.5">[table]</text><text class="c" x="26.7" y="48.8">ASG_ID</text><text class="c" x="26.7" y="78.5">ASG_NAME</text><text class="t" x="5" y="105">...</text><text class="t e" x="151" y="129">0 rows</text><text class="t e" x="210" y="129">3 &gt;</text></g>
<text class="t" x="16.7" y="6277">Generated by SchemaSpy</text>
</svg>
